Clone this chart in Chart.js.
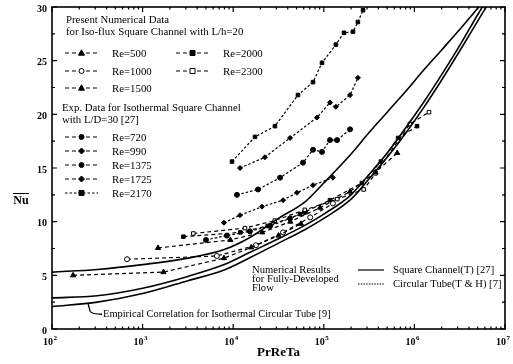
<!DOCTYPE html>
<html><head><meta charset="utf-8">
<script src="https://cdn.jsdelivr.net/npm/chart.js@4/dist/chart.umd.min.js"></script>
<style>html,body{margin:0;padding:0;background:#fff}</style>
</head><body>
<canvas id="c" width="513" height="364"></canvas>
<script>
// ---------- tick labels ----------
const xTickValues = [1e2, 1e3, 1e4, 1e5, 1e6, 1e7];
const xTickExponents = ["2", "3", "4", "5", "6", "7"];
const yTickValues = [0, 5, 10, 15, 20, 25, 30];

// ---------- fully developed / correlation curves ----------
const curveX = [100, 316, 1000, 3160, 7940, 15800, 31600, 63100, 100000, 200000, 316000, 501000, 794000, 1260000, 2000000, 3160000, 5010000, 6310000];
const upperCurveNu  = [5.3, 5.55, 6.0, 6.6, 7.4, 8.6, 10.3, 11.9, 13.6, 16.3, 18.3, 20.2, 22.1, 24.1, 26.0, 27.9, 29.9, 31.0];
const middleCurveNu = [2.9, 3.1, 3.8, 4.9, 6.0, 7.2, 8.4, 9.7, 10.7, 12.5, 14.4, 16.4, 18.7, 21.1, 23.7, 26.4, 29.3, 30.7];
const lowerCurveNu  = [2.1, 2.5, 3.3, 4.5, 5.5, 6.7, 8.0, 9.3, 10.3, 12.1, 14.0, 16.0, 18.2, 20.6, 23.2, 25.9, 28.7, 30.1];

// ---------- present numerical data (iso-flux, L/h=20) ----------
const numRe500X  = [171, 1700, 7900, 15800, 31600, 56000];
const numRe500Y  = [5.0, 5.3, 6.6, 7.6, 8.7, 9.8];
const numRe1000X = [673, 6600, 17800, 35500, 70800, 126000];
const numRe1000Y = [6.5, 6.8, 7.8, 9.0, 10.4, 11.7];
const numRe1500X = [1480, 9300, 20900, 42700, 91000, 195000, 372000, 646000];
const numRe1500Y = [7.55, 8.3, 9.0, 10.0, 11.3, 12.8, 14.6, 16.4];
const numRe2000X = [2820, 12000, 24000, 55000, 117000, 263000, 427000, 661000, 1070000];
const numRe2000Y = [8.6, 9.0, 9.6, 10.7, 12.0, 13.6, 15.6, 17.8, 18.9];
const numRe2300X = [3630, 13500, 28800, 61700, 141000, 275000, 372000, 891000, 1450000];
const numRe2300Y = [8.9, 9.4, 10.1, 11.1, 12.1, 13.0, 14.5, 19.1, 20.2];

// ---------- experimental data (isothermal, L/D=30) ----------
const expRe720X  = [5000, 8500, 15300, 25500, 42400, 61900];
const expRe720Y  = [8.3, 8.7, 9.1, 9.6, 10.3, 10.9];
const expRe990X  = [7900, 11900, 20800, 35500, 50600, 76000, 126000];
const expRe990Y  = [9.9, 10.6, 11.4, 12.0, 12.7, 13.4, 14.1];
const expRe1375X = [11000, 18800, 32900, 58900, 76000, 95500, 117000, 140000, 195000];
const expRe1375Y = [12.5, 13.0, 14.1, 15.5, 16.7, 16.5, 17.6, 17.6, 18.6];
const expRe1725X = [11900, 22400, 42400, 84100, 117000, 136000, 195000, 238000];
const expRe1725Y = [15.0, 16.0, 17.8, 19.7, 21.1, 20.7, 21.8, 23.4];
const expRe2170X = [9700, 17400, 28900, 51900, 76000, 95500, 136000, 167000, 210000, 238000, 271000];
const expRe2170Y = [15.6, 17.9, 18.9, 21.8, 23.0, 24.8, 26.5, 27.6, 27.7, 28.6, 29.7];

// annotation anchor (on the lower curve)
const annotAnchorX = 250;
const annotAnchorY = 2.4;

const SERIF = "'Liberation Serif', 'DejaVu Serif', serif";
const pts = (xs, ys) => xs.map((x, i) => ({x, y: ys[i]}));

function curve(ys, dash) {
  return {data: pts(curveX, ys), showLine: true, borderColor: '#000', borderWidth: 1.6,
    borderDash: dash || [], pointRadius: 0, cubicInterpolationMode: 'monotone', fill: false};
}
function series(xs, ys, style, open, dash) {
  return {data: pts(xs, ys), showLine: true, borderColor: '#000', borderWidth: 1.2, borderDash: dash,
    pointStyle: style, pointRadius: style === 'triangle' ? 3 : 2.5, pointBorderColor: '#000', pointBorderWidth: 1,
    pointBackgroundColor: open ? '#fff' : '#000', tension: 0, fill: false};
}
const NUMDASH = [4, 3], EXPDASH = [2.5, 2];

const datasets = [
  curve(upperCurveNu), curve(middleCurveNu), curve(lowerCurveNu),
  series(numRe500X, numRe500Y, 'triangle', false, NUMDASH),
  series(numRe1000X, numRe1000Y, 'circle', true, NUMDASH),
  series(numRe1500X, numRe1500Y, 'triangle', false, NUMDASH),
  series(numRe2000X, numRe2000Y, 'rect', false, NUMDASH),
  series(numRe2300X, numRe2300Y, 'rect', true, NUMDASH),
  series(expRe720X, expRe720Y, 'circle', false, EXPDASH),
  series(expRe990X, expRe990Y, 'rectRot', false, EXPDASH),
  series(expRe1375X, expRe1375Y, 'circle', false, EXPDASH),
  series(expRe1725X, expRe1725Y, 'rectRot', false, EXPDASH),
  series(expRe2170X, expRe2170Y, 'rect', false, EXPDASH)
];

function marker(ctx, style, open, x, y) {
  ctx.save(); ctx.setLineDash([]); ctx.lineWidth = 1;
  ctx.fillStyle = open ? '#fff' : '#000'; ctx.strokeStyle = '#000';
  ctx.beginPath();
  if (style === 'circle') ctx.arc(x, y, 2.5, 0, Math.PI * 2);
  else if (style === 'rect') ctx.rect(x - 2.5, y - 2.5, 5, 5);
  else if (style === 'rectRot') { ctx.moveTo(x, y - 3); ctx.lineTo(x + 3, y); ctx.lineTo(x, y + 3); ctx.lineTo(x - 3, y); ctx.closePath(); }
  else if (style === 'triangle') { ctx.moveTo(x, y - 3.2); ctx.lineTo(x + 3, y + 2.2); ctx.lineTo(x - 3, y + 2.2); ctx.closePath(); }
  ctx.fill(); ctx.stroke(); ctx.restore();
}
function sample(ctx, x1, x2, y, dash, style, open) {
  ctx.save(); ctx.strokeStyle = '#000'; ctx.lineWidth = 1.2; ctx.setLineDash(dash);
  ctx.beginPath(); ctx.moveTo(x1, y); ctx.lineTo(x2, y); ctx.stroke(); ctx.restore();
  if (style) marker(ctx, style, open, (x1 + x2) / 2, y);
}

const deco = {
  id: 'deco',
  afterDraw(chart) {
    const {ctx, chartArea: a, scales: {x, y}} = chart;
    ctx.save();
    ctx.strokeStyle = '#000'; ctx.fillStyle = '#000';
    // frame
    ctx.lineWidth = 1.6;
    ctx.strokeRect(a.left, a.top, a.right - a.left, a.bottom - a.top);
    // y ticks (inward, both sides)
    ctx.lineWidth = 1.2;
    for (let v = 0; v <= 30; v += 2.5) {
      const py = y.getPixelForValue(v), len = (v % 5 === 0) ? 5 : 3;
      ctx.beginPath();
      ctx.moveTo(a.left, py); ctx.lineTo(a.left + len, py);
      ctx.moveTo(a.right, py); ctx.lineTo(a.right - len, py);
      ctx.stroke();
    }
    // x ticks
    for (let d = 2; d <= 7; d++) {
      for (let m = 1; m <= 9; m++) {
        const val = m * Math.pow(10, d);
        if (val > 1e7) break;
        const px = x.getPixelForValue(val), len = m === 1 ? 5 : 2.5;
        ctx.beginPath();
        ctx.moveTo(px, a.bottom); ctx.lineTo(px, a.bottom - len);
        ctx.moveTo(px, a.top); ctx.lineTo(px, a.top + len);
        ctx.stroke();
      }
    }
    // y tick labels
    ctx.font = 'bold 10px ' + SERIF; ctx.textAlign = 'right'; ctx.textBaseline = 'middle';
    yTickValues.forEach(v => ctx.fillText(String(v), a.left - 5, y.getPixelForValue(v) + 2));
    // x tick labels
    xTickValues.forEach((v, i) => {
      const px = x.getPixelForValue(v);
      ctx.font = 'bold 10px ' + SERIF; ctx.textAlign = 'right'; ctx.textBaseline = 'middle';
      ctx.fillText('10', px + 1, a.bottom + 13);
      ctx.font = 'bold 7px ' + SERIF; ctx.textAlign = 'left';
      ctx.fillText(xTickExponents[i], px + 1.5, a.bottom + 9);
    });
    // axis titles
    ctx.font = 'bold 13px ' + SERIF; ctx.textAlign = 'center'; ctx.textBaseline = 'middle';
    ctx.fillText('PrReTa', (a.left + a.right) / 2, 353);
    ctx.font = 'bold 12px ' + SERIF;
    ctx.fillText('Nu', 21, 201);
    ctx.lineWidth = 1; ctx.beginPath(); ctx.moveTo(13, 193.5); ctx.lineTo(29, 193.5); ctx.stroke();

    // legend block (top-left)
    ctx.font = '10.8px ' + SERIF; ctx.textAlign = 'left'; ctx.textBaseline = 'middle';
    ctx.fillText('Present Numerical Data', 66, 20);
    ctx.fillText('for Iso-flux Square Channel with L/h=20', 66, 32);
    const numRows = [
      [65, 53, 'triangle', false, 'Re=500'], [65, 71, 'circle', true, 'Re=1000'], [65, 88, 'triangle', false, 'Re=1500'],
      [176, 53, 'rect', false, 'Re=2000'], [176, 71, 'rect', true, 'Re=2300']
    ];
    numRows.forEach(r => { sample(ctx, r[0], r[0] + 33, r[1], NUMDASH, r[2], r[3]); ctx.fillText(r[4], r[0] + 47, r[1] + 1); });
    ctx.fillText('Exp. Data for Isothermal Square Channel', 62, 108);
    ctx.fillText('with L/D=30 [27]', 62, 120);
    const expRows = [
      [137, 'circle', 'Re=720'], [151, 'rectRot', 'Re=990'], [165, 'circle', 'Re=1375'],
      [179, 'rectRot', 'Re=1725'], [193, 'rect', 'Re=2170']
    ];
    expRows.forEach(r => { sample(ctx, 65, 98, r[0], r[2] === 'Re=2170' ? EXPDASH : NUMDASH, r[1], false); ctx.fillText(r[2], 112, r[0] + 1); });

    // bottom-right legend
    ctx.font = '10.6px ' + SERIF;
    ctx.fillText('Numerical Results', 252, 270);
    ctx.fillText('for Fully-Developed', 252, 279);
    ctx.fillText('Flow', 252, 288);
    sample(ctx, 358, 384, 270, [], null);
    ctx.save(); ctx.lineWidth = 1.2; ctx.setLineDash([1.5, 1.2]); ctx.beginPath(); ctx.moveTo(358, 284); ctx.lineTo(384, 284); ctx.stroke(); ctx.restore();
    ctx.fillText('Square Channel(T) [27]', 393, 270);
    ctx.fillText('Circular Tube(T & H) [7]', 393, 284);

    // annotation for empirical correlation
    const ax = x.getPixelForValue(annotAnchorX), ay = y.getPixelForValue(annotAnchorY);
    ctx.lineWidth = 1.3; ctx.setLineDash([]);
    ctx.beginPath(); ctx.moveTo(ax, ay); ctx.lineTo(ax + 2, ay + 8); ctx.quadraticCurveTo(ax + 4, ay + 11, ax + 14, ay + 11); ctx.stroke();
    ctx.font = '10.4px ' + SERIF;
    ctx.fillText('Empirical Correlation for Isothermal Circular Tube [9]', ax + 15, ay + 11.5);
    ctx.restore();
  }
};

new Chart(document.getElementById('c'), {
  type: 'scatter',
  data: {datasets},
  options: {
    responsive: false, animation: false, devicePixelRatio: 1,
    layout: {padding: {left: 52, right: 8, top: 7, bottom: 35}},
    plugins: {legend: {display: false}, tooltip: {enabled: false}},
    scales: {
      x: {type: 'logarithmic', min: 100, max: 1e7, display: false},
      y: {type: 'linear', min: 0, max: 30, display: false}
    }
  },
  plugins: [deco]
});
</script>
</body></html>
